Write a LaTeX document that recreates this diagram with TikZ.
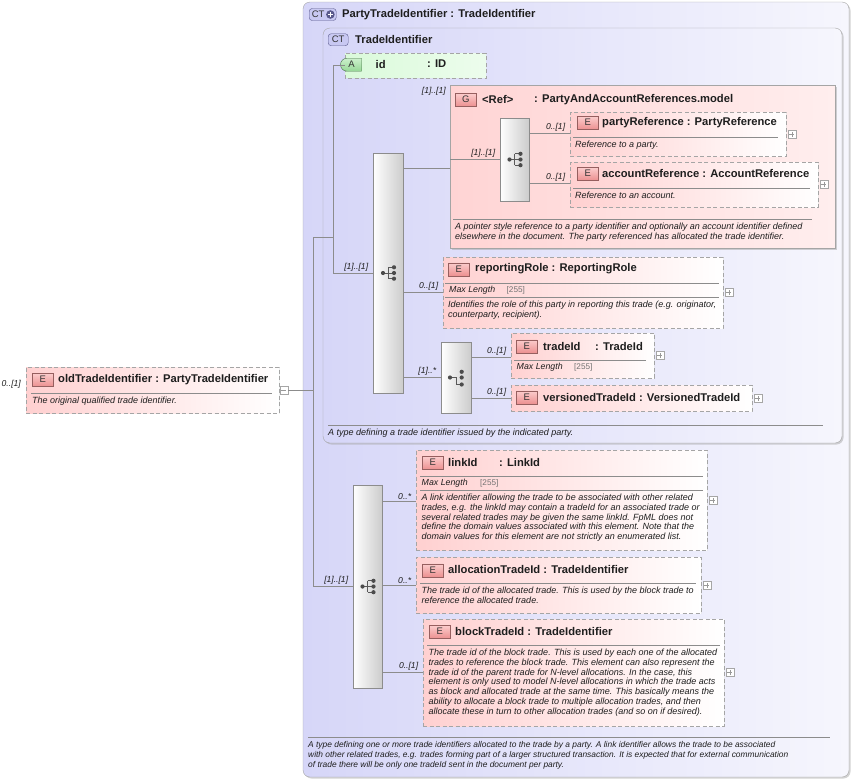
\documentclass[tikz,border=0pt]{standalone}
\usepackage{fontspec}
\setmainfont{Liberation Sans}
\usetikzlibrary{shapes.misc,shadows}

\definecolor{ctfill}{RGB}{214,214,248}
\definecolor{ctlight}{RGB}{246,246,253}
\definecolor{ctdark}{RGB}{90,90,140}
\definecolor{elpink}{RGB}{255,208,208}
\definecolor{grpink}{RGB}{255,212,212}
\definecolor{grlight}{RGB}{255,238,238}
\definecolor{atgreen}{RGB}{218,250,218}
\definecolor{bdgray}{RGB}{165,165,165}
\definecolor{lngray}{RGB}{140,140,140}
\definecolor{txt}{RGB}{30,30,30}

\tikzset{
  seqicon/.pic={
    \draw[black!65,line width=1pt] (-5,0) -- (0,0) (0,-5.7) -- (0,5.7);
    \foreach \y in {-5.7,0,5.7} \draw[black!65,line width=1pt] (0,\y) -- (6,\y);
    \foreach \p in {(-5,0),(6,-5.7),(6,0),(6,5.7)} \fill[black!70] \p circle (2.1pt);
  },
  seqlast/.pic={
    \draw[black!65,line width=1pt] (-6,0) -- (0.5,0) -- (0.5,7) -- (5.7,7);
    \foreach \p in {(-6,0),(5.7,-5.7),(5.7,0),(5.7,7)} \fill[black!70] \p circle (2.1pt);
  }
}

\begin{document}
\begin{tikzpicture}[x=1pt,y=-1pt,
  box/.style={draw=bdgray,anchor=north west,inner sep=0,outer sep=0},
  ctbox/.style={box,rounded corners=7pt,left color=ctfill,right color=ctlight,
    drop shadow={shadow xshift=1.5pt,shadow yshift=-1.5pt,fill=black!35}},
  grp/.style={box,left color=grpink,right color=grlight,
    drop shadow={shadow xshift=2pt,shadow yshift=-2pt,fill=black!35}},
  elem/.style={box,dash pattern=on 4pt off 2.5pt,left color=elpink,right color=white,
    drop shadow={shadow xshift=1pt,shadow yshift=-1pt,fill=black!12}},
  seqbox/.style={box,draw=black!45,left color=white,right color=black!20,
    drop shadow={shadow xshift=1pt,shadow yshift=-1pt,fill=black!25}},
  attr/.style={chamfered rectangle,chamfered rectangle corners={north west,south west},
    chamfered rectangle xsep=6pt,chamfered rectangle ysep=6pt,draw=bdgray,
    dash pattern=on 4pt off 2.5pt,left color=atgreen,right color=atgreen!50,inner sep=0},
  badge/.style={anchor=north west,draw={rgb,255:red,150;green,95;blue,95},
    top color={rgb,255:red,252;green,205;blue,205},bottom color={rgb,255:red,236;green,145;blue,145},
    minimum width=21pt,minimum height=13pt,inner sep=0,font=\fontsize{9.5}{9.5}\selectfont,text=black!80},
  abadge/.style={rounded rectangle,rounded rectangle right arc=none,anchor=north west,
    draw={rgb,255:red,70;green,115;blue,70},top color={rgb,255:red,205;green,240;blue,205},
    bottom color={rgb,255:red,150;green,215;blue,150},minimum width=21pt,minimum height=13pt,
    inner sep=0,font=\fontsize{9.5}{9.5}\selectfont,text=black!80},
  ctbadge/.style={anchor=north west,draw=ctdark,fill={rgb,255:red,200;green,200;blue,242},
    rounded corners=3pt,minimum height=12pt,inner sep=1pt,
    font=\fontsize{9.5}{9.5}\selectfont,text=black!80},
  title/.style={anchor=west,inner sep=0,font=\fontsize{11.2}{12}\selectfont\bfseries,text=txt},
  desc/.style={anchor=north west,inner sep=0,align=left,
    font=\fontsize{9}{9.9}\selectfont\itshape,text=txt},
  facet/.style={anchor=west,inner sep=0,font=\fontsize{8.8}{9}\selectfont\itshape,text=txt},
  facetval/.style={anchor=west,inner sep=0,font=\fontsize{8.2}{9}\selectfont,text=black!55},
  lbl/.style={inner sep=0,font=\fontsize{8.6}{9}\selectfont\itshape,text=txt},
  cnlbl/.style={lbl,anchor=south east,xshift=-4.5pt,yshift=1.5pt},
  sep/.style={draw=lngray,line width=0.6pt},
  conn/.style={draw=lngray,line width=0.7pt},
  plusbox/.style={anchor=west,draw=black!35,fill=white,minimum size=8pt,inner sep=0,
    path picture={\draw[black!40] ([xshift=-2.5pt]path picture bounding box.center) -- ([xshift=2.5pt]path picture bounding box.center)
      ([yshift=-2.5pt]path picture bounding box.center) -- ([yshift=2.5pt]path picture bounding box.center);}},
  minusbox/.style={anchor=west,draw=black!35,fill=white,minimum size=8pt,inner sep=0,
    path picture={\draw[black!40] ([xshift=-2.5pt]path picture bounding box.center) -- ([xshift=2.5pt]path picture bounding box.center);}}
]
\useasboundingbox (0,0) rectangle (855,782);

% complex types
\node[ctbox,minimum width=546pt,minimum height=775pt] (ptid) at (303,2) {};
\node[ctbadge,minimum width=27pt,align=left] (ptid-b) at (309,8.3) {CT\hspace{9pt}};
\fill[ctdark] ([xshift=-6pt]ptid-b.east) circle (4.3pt);
\draw[white,line width=1.1pt] ([xshift=-8.5pt]ptid-b.east) -- ([xshift=-3.5pt]ptid-b.east)
  ([xshift=-6pt,yshift=2.5pt]ptid-b.east) -- ([xshift=-6pt,yshift=-2.5pt]ptid-b.east);
\node[title] (ptid-t) at (342,14.5) {PartyTradeIdentifier : TradeIdentifier};

\node[ctbox,minimum width=519pt,minimum height=415pt] (tid) at (323,28) {};
\node[ctbadge,minimum width=20pt] (tid-b) at (328,33.5) {CT};
\node[title] (tid-t) at (355,39.5) {TradeIdentifier};

% attribute
\node[attr,minimum width=141pt,minimum height=25pt] (id) at (415.5,65.5) {};
\node[abadge] (id-b) at (347,58) {A};
\node[title] (id-n) at (375.5,64) {id};
\node[title] (id-ty) at (427,64) {: ID};

% group
\node[grp,minimum width=385pt,minimum height=163pt] (ref) at (450,85) {};
\node[badge] (ref-b) at (455,93) {G};
\node[title] (ref-n) at (482,99.5) {<Ref>};
\node[title] (ref-ty) at (534,99.5) {: PartyAndAccountReferences.model};
\node[seqbox,minimum width=29pt,minimum height=83pt] (refseq) at (500,118) {};
\pic at (refseq.center) {seqicon};

\node[elem,minimum width=216pt,minimum height=44pt] (pr) at (570,112) {};
\node[badge] (pr-b) at (577,116) {E};
\node[title] (pr-t) at (602,123) {partyReference : PartyReference};
\draw[sep] (573,137) -- (778,137);
\node[desc,anchor=west] (pr-d) at (575,145.5) {Reference to a party.};
\node[plusbox] (pr-p) at ([xshift=1.5pt]pr.east) {};

\node[elem,minimum width=248pt,minimum height=45pt] (ar) at (570,162) {};
\node[badge] (ar-b) at (577,167) {E};
\node[title] (ar-t) at (602,173.5) {accountReference : AccountReference};
\draw[sep] (573,188) -- (810,188);
\node[desc,anchor=west] (ar-d) at (575,195.5) {Reference to an account.};
\node[plusbox] (ar-p) at ([xshift=1.5pt]ar.east) {};

\draw[sep] (453,219) -- (812,219);
\node[desc] (ref-d) at (455,222.5) {A pointer style reference to a party identifier and optionally an account identifier defined\\
elsewhere in the document. The party referenced has allocated the trade identifier.};

% first sequence
\node[seqbox,minimum width=30pt,minimum height=240pt] (seq) at (373,153) {};
\pic at (seq.center) {seqicon};

\node[elem,minimum width=280pt,minimum height=71pt] (rr) at (443,257) {};
\node[badge] (rr-b) at (448,262.5) {E};
\node[title] (rr-t) at (475,268.5) {reportingRole : ReportingRole};
\draw[sep] (445,283.5) -- (719,283.5);
\node[facet] (rr-f) at (449,290.7) {Max Length};
\node[facetval] (rr-v) at (506.5,290.7) {[255]};
\draw[sep] (445,297.5) -- (719,297.5);
\node[desc] (rr-d) at (448,300.5) {Identifies the role of this party in reporting this trade (e.g. originator,\\
counterparty, recipient).};
\node[plusbox] (rr-p) at ([xshift=1.5pt]rr.east) {};

\node[seqbox,minimum width=30pt,minimum height=71pt] (ids) at (441,342) {};
\pic at (ids.center) {seqlast};

\node[elem,minimum width=143pt,minimum height=45pt] (ti) at (511,333) {};
\node[badge] (ti-b) at (516,339.5) {E};
\node[title] (ti-n) at (543,346) {tradeId};
\node[title] (ti-ty) at (595,346) {: TradeId};
\draw[sep] (514,360) -- (646,360);
\node[facet] (ti-f) at (516.5,367.5) {Max Length};
\node[facetval] (ti-v) at (574,367.5) {[255]};
\node[plusbox] (ti-p) at ([xshift=1.5pt]ti.east) {};

\node[elem,minimum width=241pt,minimum height=26pt] (vt) at (511,385) {};
\node[badge] (vt-b) at (516,390.5) {E};
\node[title] (vt-t) at (543,397) {versionedTradeId : VersionedTradeId};
\node[plusbox] (vt-p) at ([xshift=1.5pt]vt.east) {};

\draw[sep] (328,425) -- (823,425);
\node[desc,anchor=west] (tid-d) at (328,433) {A type defining a trade identifier issued by the indicated party.};

% second sequence
\node[seqbox,minimum width=29pt,minimum height=203pt] (links) at (353,485) {};
\pic at (links.center) {seqicon};

\node[elem,minimum width=291pt,minimum height=100pt] (li) at (416,450) {};
\node[badge] (li-b) at (422,456) {E};
\node[title] (li-n) at (448,462) {linkId};
\node[title] (li-ty) at (499,462) {: LinkId};
\draw[sep] (420,476) -- (703,476);
\node[facet] (li-f) at (421.5,483.5) {Max Length};
\node[facetval] (li-v) at (480,483.5) {[255]};
\draw[sep] (420,490) -- (703,490);
\node[desc] (li-d) at (421.5,493.5) {A link identifier allowing the trade to be associated with other related\\
trades, e.g. the linkId may contain a tradeId for an associated trade or\\
several related trades may be given the same linkId. FpML does not\\
define the domain values associated with this element. Note that the\\
domain values for this element are not strictly an enumerated list.};
\node[plusbox] (li-p) at ([xshift=1.5pt]li.east) {};

\node[elem,minimum width=285pt,minimum height=56pt] (at) at (416,557) {};
\node[badge] (at-b) at (422,563.5) {E};
\node[title] (at-t) at (448,569) {allocationTradeId : TradeIdentifier};
\draw[sep] (420,583.5) -- (696,583.5);
\node[desc] (at-d) at (421.5,586.5) {The trade id of the allocated trade. This is used by the block trade to\\
reference the allocated trade.};
\node[plusbox] (at-p) at ([xshift=1.5pt]at.east) {};

\node[elem,minimum width=301pt,minimum height=107pt] (bt) at (423,619) {};
\node[badge] (bt-b) at (429,625) {E};
\node[title] (bt-t) at (455,631) {blockTradeId : TradeIdentifier};
\draw[sep] (427,645) -- (720,645);
\node[desc] (bt-d) at (428.5,648.5) {The trade id of the block trade. This is used by each one of the allocated\\
trades to reference the block trade. This element can also represent the\\
trade id of the parent trade for N-level allocations. In the case, this\\
element is only used to model N-level allocations in which the trade acts\\
as block and allocated trade at the same time. This basically means the\\
ability to allocate a block trade to multiple allocation trades, and then\\
allocate these in turn to other allocation trades (and so on if desired).};
\node[plusbox] (bt-p) at ([xshift=1.5pt]bt.east) {};

\draw[sep] (308,737) -- (830,737);
\node[desc,font=\fontsize{8.4}{9.8}\selectfont\itshape] (ptid-d) at (308,741.5) {A type defining one or more trade identifiers allocated to the trade by a party. A link identifier allows the trade to be associated\\
with other related trades, e.g. trades forming part of a larger structured transaction. It is expected that for external communication\\
of trade there will be only one tradeId sent in the document per party.};

% the element itself
\node[elem,minimum width=253pt,minimum height=46pt] (old) at (26,367) {};
\node[badge] (old-b) at (32,373) {E};
\node[title] (old-t) at (58,379.5) {oldTradeIdentifier : PartyTradeIdentifier};
\draw[sep] (31,393.5) -- (272,393.5);
\node[desc,anchor=west] (old-d) at (32,401) {The original qualified trade identifier.};
\node[minusbox] (old-m) at ([xshift=0.5pt]old.east) {};
\node[lbl,anchor=west] (old-c) at (1.5,384) {0..[1]};

% connectors
\path (313,390) coordinate (trunk) (333,237) coordinate (tin)
  (450,168) coordinate (ref-in) (443,292) coordinate (rr-in)
  (570,133) coordinate (pr-in) (570,183) coordinate (ar-in)
  (511,357) coordinate (ti-in) (416,501) coordinate (li-in) (423,672) coordinate (bt-in);
\draw[conn] (old-m.east) -- (trunk);
\draw[conn] (trunk) |- (tin);
\draw[conn] (trunk) |- (links.west) node[cnlbl] (links-c) {[1]..[1]};
\draw[conn] (tin) |- (id.west);
\draw[conn] (tin) |- (seq.west) node[cnlbl] (seq-c) {[1]..[1]};
\draw[conn] (seq.east |- ref-in) -- (ref-in);
\node[lbl,anchor=east] (ref-c) at ([xshift=-4pt,yshift=-6pt]ref.north west) {[1]..[1]};
\draw[conn] (ref.west |- refseq.west) -- (refseq.west) node[cnlbl] (refseq-c) {[1]..[1]};
\draw[conn] (refseq.east |- pr-in) -- (pr-in) node[cnlbl] (pr-c) {0..[1]};
\draw[conn] (refseq.east |- ar-in) -- (ar-in) node[cnlbl] (ar-c) {0..[1]};
\draw[conn] (seq.east |- rr-in) -- (rr-in) node[cnlbl] (rr-c) {0..[1]};
\draw[conn] (seq.east |- ids.west) -- (ids.west) node[cnlbl] (ids-c) {[1]..*};
\draw[conn] (ids.east |- ti-in) -- (ti-in) node[cnlbl] (ti-c) {0..[1]};
\draw[conn] (ids.east |- vt.west) -- (vt.west) node[cnlbl] (vt-c) {0..[1]};
\draw[conn] (links.east |- li-in) -- (li-in) node[cnlbl] (li-c) {0..*};
\draw[conn] (links.east |- at.west) -- (at.west) node[cnlbl] (at-c) {0..*};
\draw[conn] (links.east |- bt-in) -- (bt-in) node[cnlbl] (bt-c) {0..[1]};
\end{tikzpicture}
\end{document}
